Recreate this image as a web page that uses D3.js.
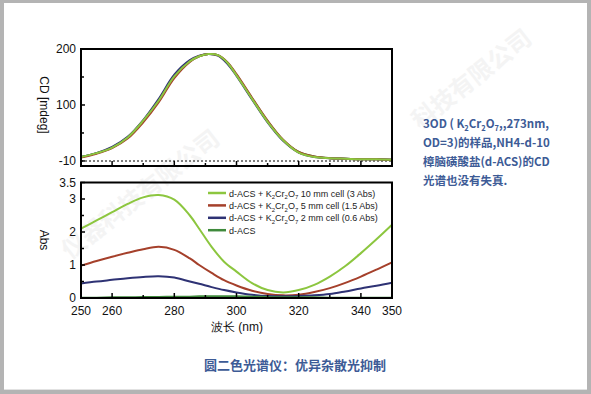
<!DOCTYPE html>
<html lang="zh">
<head>
<meta charset="utf-8">
<title>CD spectra</title>
<style>
  body { margin: 0; background: #b4b4b4; }
  svg { display: block; }
  .tick-label { font: 12px "Liberation Sans", Arial, sans-serif; fill: #111; }
  .legend text { font: 9px "Liberation Sans", Arial, sans-serif; fill: #222; }
  .note { font: bold 11.5px "Noto Sans CJK SC", sans-serif; fill: #3d5b96; }
</style>
<script src="https://d3js.org/d3.v7.min.js"></script>
</head>
<body>
<script>
// wavelengths (nm) for the CD curves
var cdWave = [250,255,260,265,270,275,280,285,288,291,294,297,300,305,310,315,320,325,330,335,340,345,350];
// CD [mdeg], four samples overlap almost exactly
var cdACS   = [7,14,24,42,71,108,151,178,187,191,189,176,154,112,71,37,16,8,5,4,3,3,2];
var cdNavy  = [7,14,25,43,73,111,154,180,188,191,188,174,152,110,69,36,15,7,5,4,3,3,2];
var cdRed   = [6,13,23,40,69,105,148,177,187,191,189,177,155,113,72,38,16,8,5,4,3,3,2];
var cdGreen = [7,14,24,42,72,108,151,178,187,191,189,176,153,111,70,37,15,7,5,4,3,3,2];

// wavelengths for absorbance curves
var absWave = [250,255,260,265,270,275,280,285,288,292,296,300,305,310,315,320,325,330,335,340,345,350];
var abs10mm = [2.1,2.35,2.6,2.85,3.05,3.12,2.98,2.5,2.1,1.55,1.1,0.8,0.45,0.24,0.17,0.24,0.4,0.65,0.97,1.36,1.78,2.22];
var abs5mm  = [0.98,1.12,1.25,1.37,1.48,1.55,1.46,1.2,1.0,0.76,0.54,0.38,0.22,0.12,0.08,0.1,0.18,0.3,0.46,0.65,0.86,1.08];
var abs2mm  = [0.44,0.5,0.55,0.6,0.64,0.66,0.62,0.5,0.43,0.33,0.24,0.17,0.1,0.06,0.05,0.06,0.08,0.12,0.2,0.29,0.37,0.46];
var absACS  = [0.01,0.01,0.02,0.02,0.03,0.03,0.04,0.04,0.05,0.05,0.05,0.05,0.04,0.03,0.02,0.02,0.02,0.01,0.01,0.01,0.01,0.01];

var seriesNames = ["d-ACS + K|2|Cr|2|O|7| 10 mm cell (3 Abs)",
                   "d-ACS + K|2|Cr|2|O|7| 5 mm cell (1.5 Abs)",
                   "d-ACS + K|2|Cr|2|O|7| 2 mm cell (0.6 Abs)",
                   "d-ACS"];
var seriesColors = ["#8cc63f", "#a5402b", "#2e3274", "#3f8a3c"];

var xTickLabels = [250,260,280,300,320,340,350];
var cdTicks = [0,100,200];
var cdTickLabels = ["-10","100","200"];
var absTicks = [0,1,2,3,3.5];

var noteLines = ["3OD ( K|2|Cr|2|O|7|,,273nm,", "OD=3)的样品,NH4-d-10", "樟脑磺酸盐(d-ACS)的CD", "光谱也没有失真."];
var title = "圆二色光谱仪：优异杂散光抑制";

var W = 591, H = 394;
var svg = d3.select("body").append("svg").attr("width", W).attr("height", H);

svg.append("rect").attr("x",0).attr("y",0).attr("width",W).attr("height",H).attr("fill","#b4b4b4");
svg.append("rect").attr("x",4).attr("y",3).attr("width",583).attr("height",386).attr("fill","#fff");
svg.append("line").attr("x1",4).attr("x2",587).attr("y1",389.5).attr("y2",389.5).attr("stroke","#e2e2e2");

// faint watermark
var wm = svg.append("g").attr("fill","#f4f4f4").attr("font-family","Noto Sans CJK SC")
  .attr("font-weight","bold").attr("font-size",24);
wm.append("text").attr("transform","translate(70,260) rotate(-38)").text("仪器科技有限公司");
wm.append("text").attr("transform","translate(420,130) rotate(-38)").text("科技有限公司");

var x = d3.scaleLinear().domain([250,350]).range([81,392]);
var yCD = d3.scaleLinear().domain([-9,200]).range([166,49]);
var yAbs = d3.scaleLinear().domain([0,3.5]).range([298,182.5]);

function subText(sel, str, size) {
  // pieces split by |, odd pieces are subscripts
  var shift = size * 0.3;
  str.split("|").forEach(function(p, i) {
    if (!p) return;
    var t = sel.append("tspan").text(p);
    if (i % 2 == 1) t.attr("font-size", size * 0.65).attr("dy", shift);
    else if (i > 0) t.attr("dy", -shift);
  });
}

function frame(yScale, yTicks, yLabels, yMinor, ylab, ylabY) {
  var g = svg.append("g");
  var y0 = yScale.range()[0], y1 = yScale.range()[1];
  // x ticks (inward)
  d3.range(260,350,10).forEach(function(v) {
    var len = (v % 20 == 0) ? 5 : 3;
    g.append("line").attr("x1",x(v)).attr("x2",x(v)).attr("y1",y0).attr("y2",y0-len)
      .attr("stroke","#000").attr("stroke-width",1.5);
  });
  yTicks.forEach(function(v, i) {
    g.append("line").attr("x1",81).attr("x2",85).attr("y1",yScale(v)).attr("y2",yScale(v))
      .attr("stroke","#000").attr("stroke-width",1.5);
    g.append("text").attr("class","tick-label").attr("x",76).attr("y",yScale(v)+4)
      .attr("text-anchor","end").text(yLabels[i]);
  });
  yMinor.forEach(function(v) {
    g.append("line").attr("x1",81).attr("x2",84).attr("y1",yScale(v)).attr("y2",yScale(v))
      .attr("stroke","#000").attr("stroke-width",1.5);
  });
  g.append("rect").attr("x",81).attr("y",y1).attr("width",311).attr("height",y0-y1)
    .attr("fill","none").attr("stroke","#000").attr("stroke-width",2);
  g.append("text").attr("class","tick-label")
    .attr("transform","translate(40," + ylabY + ") rotate(90)")
    .attr("text-anchor","middle").text(ylab);
  return g;
}

// ---- top panel: CD ----
svg.append("line").attr("x1",x(250)).attr("x2",x(350)).attr("y1",yCD(0)).attr("y2",yCD(0))
  .attr("stroke","#555").attr("stroke-width",1.5).attr("stroke-dasharray","2,2");

var cdLine = d3.line().x(function(d){ return x(d[0]); }).y(function(d){ return yCD(d[1]); })
  .curve(d3.curveCatmullRom);
[[cdACS,3],[cdNavy,2],[cdRed,1],[cdGreen,0]].forEach(function(s) {
  svg.append("path").datum(d3.zip(cdWave, s[0])).attr("d", cdLine)
    .attr("fill","none").attr("stroke", seriesColors[s[1]]).attr("stroke-width", 2);
});
frame(yCD, cdTicks, cdTickLabels, [50,150], "CD [mdeg]", 105);

// ---- bottom panel: Abs ----
var absLine = d3.line().x(function(d){ return x(d[0]); }).y(function(d){ return yAbs(d[1]); })
  .curve(d3.curveCatmullRom);
[abs10mm, abs5mm, abs2mm, absACS].forEach(function(s, i) {
  svg.append("path").datum(d3.zip(absWave, s)).attr("d", absLine)
    .attr("fill","none").attr("stroke", seriesColors[i]).attr("stroke-width", 2);
});
frame(yAbs, absTicks, absTicks.map(String), [0.5,1.5,2.5], "Abs", 240);

xTickLabels.forEach(function(v) {
  svg.append("text").attr("class","tick-label").attr("x",x(v)).attr("y",315)
    .attr("text-anchor","middle").text(v);
});
svg.append("text").attr("class","tick-label").attr("x",237).attr("y",331)
  .attr("text-anchor","middle").text("波长 (nm)");

// legend
var leg = svg.append("g").attr("class","legend");
seriesNames.forEach(function(n, i) {
  var yy = 193 + i * 12.4;
  leg.append("line").attr("x1",208).attr("x2",226).attr("y1",yy).attr("y2",yy)
    .attr("stroke", seriesColors[i]).attr("stroke-width", 2.5);
  var t = leg.append("text").attr("x",229).attr("y",yy+3.5);
  subText(t, n, 9.2);
});

// right side note
noteLines.forEach(function(l, i) {
  var t = svg.append("text").attr("class","note").attr("x",423).attr("y",128 + i*19);
  subText(t, l, 11.5);
});

svg.append("text").attr("x",295).attr("y",370).attr("text-anchor","middle")
  .attr("font-family","Noto Sans CJK SC").attr("font-weight","bold").attr("font-size",13)
  .attr("fill","#3d5b96").text(title);
</script>
</body>
</html>
